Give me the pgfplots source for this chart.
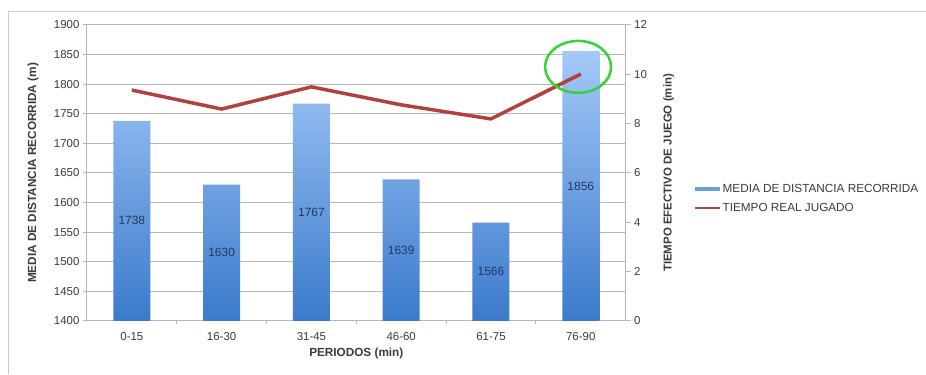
\documentclass[border=0pt]{standalone}
\usepackage{fontspec}
\setmainfont{Liberation Sans}
\usepackage{pgfplots}
\usepackage{pgfplotstable}
\pgfplotsset{compat=1.18}
\definecolor{barTop}{HTML}{A3C9F8}
\definecolor{barBot}{HTML}{3B7ACB}
\definecolor{lineRed}{HTML}{B0413E}
\definecolor{gridGray}{HTML}{B8B8B8}
\definecolor{txtGray}{HTML}{3A3A3A}
\definecolor{lblBlue}{HTML}{22385E}
\definecolor{circGreen}{HTML}{33D433}
\definecolor{legBlue}{HTML}{6A9FE0}
\pgfplotstableread{
x d t
0 1738 9.36
1 1630 8.59
2 1767 9.49
3 1639 8.76
4 1566 8.19
5 1856 10.01
}\data
\begin{document}
\begin{tikzpicture}[x=1bp,y=1bp]
\begin{axis}[
  width=539bp, height=296bp, scale only axis,
  xmin=-0.5, xmax=5.5, ymin=1400, ymax=1900,
  axis x line*=bottom, axis y line*=left,
  axis line style={gridGray, line width=1bp},
  xtick={0,...,5},
  xticklabels={0-15,16-30,31-45,46-60,61-75,76-90},
  minor xtick={0.5,1.5,...,4.5},
  ytick distance=50,
  ymajorgrids, major grid style={gridGray, line width=1bp},
  tick style={gridGray, line width=1bp},
  major x tick style={draw=none},
  minor tick length=3bp,
  major tick length=4bp,
  tick align=outside,
  /pgf/number format/1000 sep={},
  /pgf/number format/assume math mode=true,
  tick label style={font=\fontsize{11.5}{13}\selectfont, text=txtGray},
  xticklabel style={yshift=-4bp},
  xlabel={PERIODOS (min)},
  ylabel={MEDIA DE DISTANCIA RECORRIDA (m)},
  label style={font=\bfseries\fontsize{11.8}{14}\selectfont, text=txtGray},
  xlabel style={at={(axis description cs:0.5,-0.11)}, anchor=center},
  ylabel style={at={(axis description cs:-0.1,0.5)}, anchor=center},
  legend style={at={(1.124,0.414)}, anchor=west, draw=none, fill=none,
    font=\fontsize{11.8}{14}\selectfont, text=txtGray,
    row sep=7bp, inner sep=0pt, nodes={inner sep=1bp}},
  legend cell align=left,
]
\addplot[ybar, bar width=37bp, draw=none, top color=barTop, bottom color=barBot,
  legend image code/.code={\draw[line width=4bp, legBlue] (0bp,0bp) -- (25bp,0bp);}]
  table[x=x, y=d] {\data};
\addlegendentry{MEDIA DE DISTANCIA RECORRIDA}
\addlegendimage{legend image code/.code={\draw[line width=2bp, lineRed] (0bp,0bp) -- (25bp,0bp);}}
\addlegendentry{TIEMPO REAL JUGADO}
\addplot[draw=none, mark=none, forget plot, nodes near coords={\pgfmathprintnumber[1000 sep={}]{\pgfplotspointmeta}},
  point meta=explicit,
  every node near coord/.append style={anchor=center, font=\fontsize{12}{14}\selectfont, text=lblBlue}]
  table[x=x, y expr=(\thisrow{d}+1400)/2, meta=d] {\data};
\end{axis}
\begin{axis}[
  width=539bp, height=296bp, scale only axis,
  xmin=-0.5, xmax=5.5, ymin=0, ymax=12,
  axis x line=none, axis y line*=right,
  axis line style={gridGray, line width=1bp},
  ytick distance=2,
  tick style={gridGray, line width=1bp},
  major tick length=5bp,
  tick align=outside,
  /pgf/number format/assume math mode=true,
  tick label style={font=\fontsize{11.5}{13}\selectfont, text=txtGray},
  ylabel={TIEMPO EFECTIVO DE JUEGO (min)},
  label style={font=\bfseries\fontsize{11.5}{14}\selectfont, text=txtGray},
  ylabel style={at={(axis description cs:1.08,0.5)}, anchor=center},
]
\addplot[lineRed, line width=3.5bp, mark=none] table[x=x, y=t] {\data};
\draw[circGreen, line width=2.5bp] (axis cs:4.97,10.3) ellipse[x radius=33bp, y radius=26bp];
\end{axis}
\draw[color=black!20, line width=1bp] (-78,-53) -- (-78,309) -- (839,309);
\useasboundingbox (-87,-53) rectangle (839,321);
\end{tikzpicture}
\end{document}
